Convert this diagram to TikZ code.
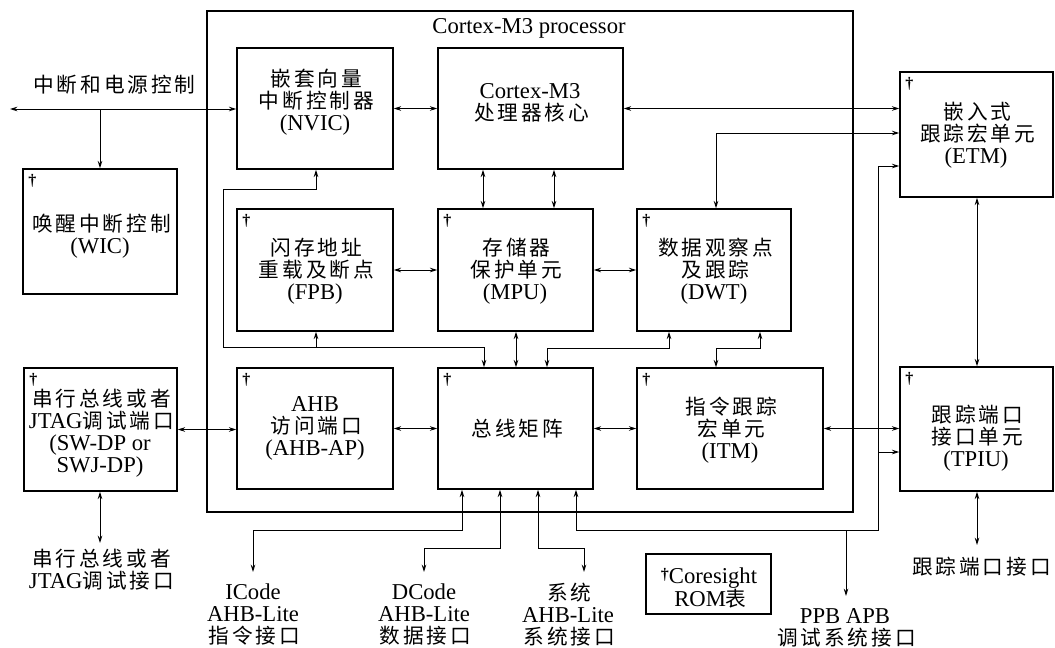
\documentclass[tikz,border=0pt]{standalone}
\usepackage{fontspec}
\setmainfont{Liberation Serif}
\newfontfamily\cjkf[LetterSpace=14]{Noto Sans CJK SC}
\newcommand\zh[1]{{\cjkf\fontsize{15.5}{16.5}\selectfont#1\kern-0.14em}}
\usetikzlibrary{arrows.meta,fit,calc}
\begin{document}
\begin{tikzpicture}[x=0.75pt,y=-0.75pt,
  >={Stealth[length=5.5pt,width=3.4pt]},
  box/.style={draw,line width=1.1pt,inner sep=0pt},
  procbox/.style={draw,line width=1pt,inner sep=0pt},
  txt/.style={align=center,inner sep=0pt,font=\fontsize{17}{16.5}\selectfont},
  dag/.style={inner sep=0pt,font=\bfseries\fontsize{12}{12}\selectfont},
  conn/.style={line width=0.7pt},
]
\useasboundingbox (0,0) rectangle (1055,647);

% boxes
\node[procbox,fit={(207,11) (853,512)}] (proc) {};
\node[box,fit={(237,48) (393,169)}] (nvic) {};
\node[box,fit={(438,48) (623,169)}] (core) {};
\node[box,fit={(900,72) (1053,197)}] (etm) {};
\node[box,fit={(23,169) (177,294)}] (wic) {};
\node[box,fit={(237,209) (393,331)}] (fpb) {};
\node[box,fit={(438,209) (593,331)}] (mpu) {};
\node[box,fit={(637,209) (791,331)}] (dwt) {};
\node[box,fit={(24,368) (177,491)}] (swdp) {};
\node[box,fit={(237,368) (393,489)}] (ahbap) {};
\node[box,fit={(438,368) (593,489)}] (bus) {};
\node[box,fit={(637,368) (823,489)}] (itm) {};
\node[box,fit={(900,367) (1053,491)}] (tpiu) {};
\node[box,fit={(646,554) (771,614)}] (rom) {};

% daggers
\foreach \b in {wic,swdp,fpb,mpu,dwt,ahbap,bus,itm,etm,tpiu}
  \node[dag] (\b-d) at ($(\b.north west)+(10,13)$) {†};

% texts
\node[txt] (intl) at (113,85) {\zh{中断和电源控制}};
\node[txt] (proct) at (529,28) {Cortex-M3 processor};
\node[txt] (nvict) at (315,102.5) {\zh{嵌套向量}\\\zh{中断控制器}\\(NVIC)};
\node[txt] (coret) at (530,102.5) {Cortex-M3\\\zh{处理器核心}};
\node[txt] (etmt) at (976,135) {\zh{嵌入式}\\\zh{跟踪宏单元}\\(ETM)};
\node[txt] (wict) at (100,236) {\zh{唤醒中断控制}\\(WIC)};
\node[txt] (fpbt) at (315,271.5) {\zh{闪存地址}\\\zh{重载及断点}\\(FPB)};
\node[txt] (mput) at (515,271.5) {\zh{存储器}\\\zh{保护单元}\\(MPU)};
\node[txt] (dwtt) at (714,271.5) {\zh{数据观察点}\\\zh{及跟踪}\\(DWT)};
\node[txt] (swdpt) at (100,433) {\zh{串行总线或者}\\JTAG\zh{调试端口}\\(SW-DP or\\SWJ-DP)};
\node[txt] (ahbapt) at (315,428.5) {AHB\\\zh{访问端口}\\(AHB-AP)};
\node[txt] (bust) at (516,429) {\zh{总线矩阵}};
\node[txt] (itmt) at (730,430) {\zh{指令跟踪}\\\zh{宏单元}\\(ITM)};
\node[txt] (tpiut) at (976,438) {\zh{跟踪端口}\\\zh{接口单元}\\(TPIU)};
\node[txt] (romt) at (709,588) {\raisebox{3pt}{\bfseries\fontsize{12}{12}\selectfont †}Coresight\\ROM\zh{表}};
\node[txt] (swl) at (100,570) {\zh{串行总线或者}\\JTAG\zh{调试接口}};
\node[txt] (icl) at (253,614) {ICode\\AHB-Lite\\\zh{指令接口}};
\node[txt] (dcl) at (424,614) {DCode\\AHB-Lite\\\zh{数据接口}};
\node[txt] (syl) at (568,615) {\zh{系统}\\AHB-Lite\\\zh{系统接口}};
\node[txt] (ppbl) at (845,628) {PPB APB\\\zh{调试系统接口}};
\node[txt] (tpl) at (980,567) {\zh{跟踪端口接口}};

% interrupt line
\coordinate (intL) at (10,109);
\coordinate (intB) at (100,109);
\draw[conn,<->] (intL) -- (intL -| nvic.west);
\draw[conn,->] (intB) -- (intB |- wic.north);

\draw[conn,<->] (nvic.east) -- (core.west);
\draw[conn,<->] (core.east) -- (core.east -| etm.west);
\coordinate (dwE) at (716,133);
\draw[conn,<->] (dwE |- dwt.north) -- (dwE) -- (dwE -| etm.west);
\coordinate (cm1) at (483,190);
\coordinate (cm2) at (554,190);
\draw[conn,<->] (cm1 |- core.south) -- (cm1 |- mpu.north);
\draw[conn,<->] (cm2 |- core.south) -- (cm2 |- mpu.north);
\draw[conn,<->] (fpb.east) -- (mpu.west);
\draw[conn,<->] (mpu.east) -- (dwt.west);

% private bus
\coordinate (pb1) at (316,189);
\coordinate (pb2) at (223,189);
\coordinate (pb3) at (223,347);
\coordinate (pb4) at (484,347);
\coordinate (pb5) at (316,347);
\draw[conn,<->] (pb1 |- nvic.south) -- (pb1) -- (pb2) -- (pb3) -- (pb4) -- (pb4 |- bus.north);
\draw[conn,->] (pb5) -- (pb5 |- fpb.south);
\coordinate (mb) at (516,350);
\draw[conn,<->] (mb |- mpu.south) -- (mb |- bus.north);
\coordinate (db1) at (669,348);
\coordinate (db2) at (547,348);
\draw[conn,<->] (db1 |- dwt.south) -- (db1) -- (db2) -- (db2 |- bus.north);
\coordinate (di1) at (760,348);
\coordinate (di2) at (716,348);
\draw[conn,<->] (di1 |- dwt.south) -- (di1) -- (di2) -- (di2 |- itm.north);

\draw[conn,<->] (swdp.east) -- (swdp.east -| ahbap.west);
\draw[conn,<->] (ahbap.east) -- (bus.west);
\draw[conn,<->] (bus.east) -- (itm.west);
\draw[conn,<->] (itm.east) -- (itm.east -| tpiu.west);
\coordinate (et) at (977,300);
\draw[conn,<->] (et |- etm.south) -- (et |- tpiu.north);

% debug bus
\coordinate (ab1) at (576,530);
\coordinate (ab2) at (878,530);
\coordinate (ab3) at (878,166);
\coordinate (ab4) at (878,452);
\coordinate (ab5) at (846,530);
\coordinate (ppbE) at (846,596);
\draw[conn,<->] (ab1 |- bus.south) -- (ab1) -- (ab2) -- (ab3) -- (ab3 -| etm.west);
\draw[conn,->] (ab4) -- (ab4 -| tpiu.west);
\draw[conn,->] (ab5) -- (ppbE);

% code buses
\coordinate (ic1) at (462,530);
\coordinate (ic2) at (253,530);
\coordinate (icE) at (253,572);
\draw[conn,<->] (ic1 |- bus.south) -- (ic1) -- (ic2) -- (icE);
\coordinate (dc1) at (500,548);
\coordinate (dc2) at (424,548);
\coordinate (dcE) at (424,572);
\draw[conn,<->] (dc1 |- bus.south) -- (dc1) -- (dc2) -- (dcE);
\coordinate (sy1) at (538,548);
\coordinate (sy2) at (584,548);
\coordinate (syE) at (584,572);
\draw[conn,<->] (sy1 |- bus.south) -- (sy1) -- (sy2) -- (syE);
\coordinate (tp) at (977,545);
\draw[conn,<->] (tp |- tpiu.south) -- (tp);
\coordinate (sw) at (100,543);
\draw[conn,<->] (sw |- swdp.south) -- (sw);
\end{tikzpicture}
\end{document}
